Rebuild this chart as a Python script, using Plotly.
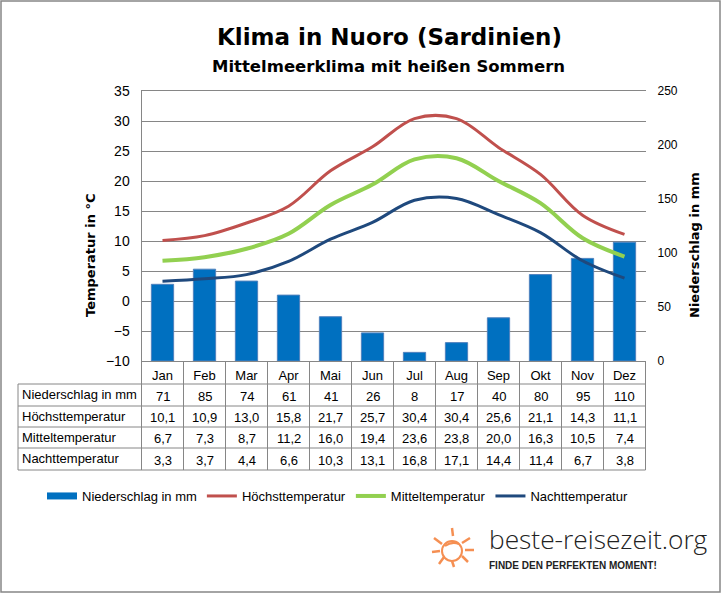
from plotly import graph_objects as go

WIDTH = 722
HEIGHT = 594

months = ['Jan', 'Feb', 'Mar', 'Apr', 'Mai', 'Jun', 'Jul', 'Aug', 'Sep', 'Okt', 'Nov', 'Dez']
rain = [71, 85, 74, 61, 41, 26, 8, 17, 40, 80, 95, 110]
high = [10.1, 10.9, 13.0, 15.8, 21.7, 25.7, 30.4, 30.4, 25.6, 21.1, 14.3, 11.1]
mean = [6.7, 7.3, 8.7, 11.2, 16.0, 19.4, 23.6, 23.8, 20.0, 16.3, 10.5, 7.4]
low = [3.3, 3.7, 4.4, 6.6, 10.3, 13.1, 16.8, 17.1, 14.4, 11.4, 6.7, 3.8]

rain_name = 'Niederschlag in mm'
high_name = 'Höchsttemperatur'
mean_name = 'Mitteltemperatur'
low_name = 'Nachttemperatur'

GRAY = '#868686'
FONT = 'Liberation Sans'
ORANGE = '#F58F52'

# sun rays of the logo, in pixels of the page
sun_rays = [(452, 528, 453, 536), (462, 543, 470, 538), (465, 550, 474, 550), (462, 556, 468, 562),
            (452, 561, 454, 567), (444, 557, 439, 564), (432, 552, 440, 551), (442, 544, 434, 538)]


def px(x):
    return x / WIDTH


def py(y):
    return 1 - y / HEIGHT


def label(x, y, text, size=13, bold=False, family=FONT, color='black', angle=0, anchor='center', weight=None):
    return dict(xref='paper', yref='paper', x=px(x), y=py(y), text=text, showarrow=False,
                xanchor=anchor, yanchor='middle', textangle=angle,
                font=dict(family=family, size=size, color=color,
                          weight=weight if weight else ('bold' if bold else 'normal')))


def rule(x0, y0, x1, y1, color=GRAY, width=1):
    return dict(type='line', xref='paper', yref='paper', x0=px(x0), y0=py(y0), x1=px(x1), y1=py(y1),
                line=dict(color=color, width=width))


def comma(values):
    return [f'{v:.1f}'.replace('.', ',') for v in values]


fig = go.Figure()

fig.add_trace(go.Bar(x=months, y=rain, name=rain_name, yaxis='y', showlegend=False,
                     marker=dict(color='#0070C0', line=dict(color='#4F81BD', width=1))))
# bars get a small square in a plotly legend, this one gives the wide swatch
fig.add_trace(go.Scatter(x=[None], y=[None], name=rain_name, mode='lines', yaxis='y2',
                         line=dict(color='#0070C0', width=7)))
fig.add_trace(go.Scatter(x=months, y=high, name=high_name, mode='lines', yaxis='y2',
                         line=dict(color='#C0504D', width=3, shape='spline', smoothing=1)))
fig.add_trace(go.Scatter(x=months, y=mean, name=mean_name, mode='lines', yaxis='y2',
                         line=dict(color='#92D050', width=4, shape='spline', smoothing=1)))
fig.add_trace(go.Scatter(x=months, y=low, name=low_name, mode='lines', yaxis='y2',
                         line=dict(color='#1F497D', width=3, shape='spline', smoothing=1)))

shapes = [dict(type='rect', xref='paper', yref='paper', x0=px(1), y0=py(1), x1=px(720), y1=py(592),
               line=dict(color=GRAY, width=1.5))]
annotations = [
    label(389, 37, 'Klima in Nuoro (Sardinien)', size=23, bold=True, family='DejaVu Sans'),
    label(388.5, 66, 'Mittelmeerklima mit heißen Sommern', size=16.5, bold=True, family='DejaVu Sans'),
    label(90, 255, 'Temperatur in °C', size=13, bold=True, family='DejaVu Sans', angle=-90),
    label(695, 245, 'Niederschlag in mm', size=13, bold=True, family='DejaVu Sans', angle=-90),
    label(487, 539, 'beste-reisezeit.org', size=26.3, family='Open Sans', color='#222222', anchor='left', weight=300),
    label(487, 565, 'FINDE DEN PERFEKTEN MOMENT!', size=10, bold=True, color='#222222', anchor='left'),
]

# table under the chart
row_lines = [384, 406, 427, 448, 470]
col_lines = [18] + [141.5 + 42 * i for i in range(13)]
for y in row_lines:
    shapes.append(rule(18, y, 645.5, y))
for x in col_lines:
    shapes.append(rule(x, 384, x, 470))

rows = [
    (rain_name, [str(v) for v in rain], 396, 394),
    (high_name, comma(high), 417, 416),
    (mean_name, comma(mean), 438, 437),
    (low_name, comma(low), 460, 458),
]
for name, cells, cell_y, name_y in rows:
    annotations.append(label(20, name_y, name, size=13, anchor='left'))
    for i, text in enumerate(cells):
        annotations.append(label(141.5 + 42 * (i + 0.5), cell_y, text, size=13))

# logo
shapes.append(dict(type='circle', xref='paper', yref='paper', x0=px(442), y0=py(541), x1=px(462), y1=py(561),
                   line=dict(color=ORANGE, width=2)))
shapes.append(dict(type='path', xref='paper', yref='paper', line=dict(color=ORANGE, width=2),
                   path=f'M{px(445)},{py(546)} Q{px(452)},{py(541)} {px(459)},{py(544)}'))
for x0, y0, x1, y1 in sun_rays:
    shapes.append(rule(x0, y0, x1, y1, color=ORANGE, width=2.5))

fig.update_layout(
    width=WIDTH,
    height=HEIGHT,
    margin=dict(l=0, r=0, t=0, b=0, autoexpand=False),
    paper_bgcolor='white',
    plot_bgcolor='white',
    font=dict(family=FONT, size=13, color='black'),
    bargap=0.47,
    shapes=shapes,
    annotations=annotations,
    legend=dict(orientation='h', x=px(42), y=py(496), xanchor='left', yanchor='middle',
                font=dict(size=13), bgcolor='rgba(0,0,0,0)'),
    xaxis=dict(domain=[px(141.5), px(645.5)], type='category', tickson='boundaries', ticks='outside',
               ticklen=23, tickcolor=GRAY, ticklabelstandoff=2, showgrid=False,
               showline=True, linecolor=GRAY, mirror=True),
    yaxis=dict(domain=[py(361), py(91)], side='right', range=[0, 250], dtick=50, showgrid=False,
               ticks='', zeroline=False, tickfont=dict(size=12), ticklabelstandoff=11),
    yaxis2=dict(overlaying='y', side='left', range=[-10, 35], dtick=5, showgrid=True, gridcolor=GRAY,
                gridwidth=1, zeroline=False, showline=True, linecolor=GRAY, ticks='',
                tickfont=dict(size=14), ticklabelstandoff=8),
)

fig.write_html('out.html', post_script="document.body.style.margin='0';",
               config=dict(displayModeBar=False))
